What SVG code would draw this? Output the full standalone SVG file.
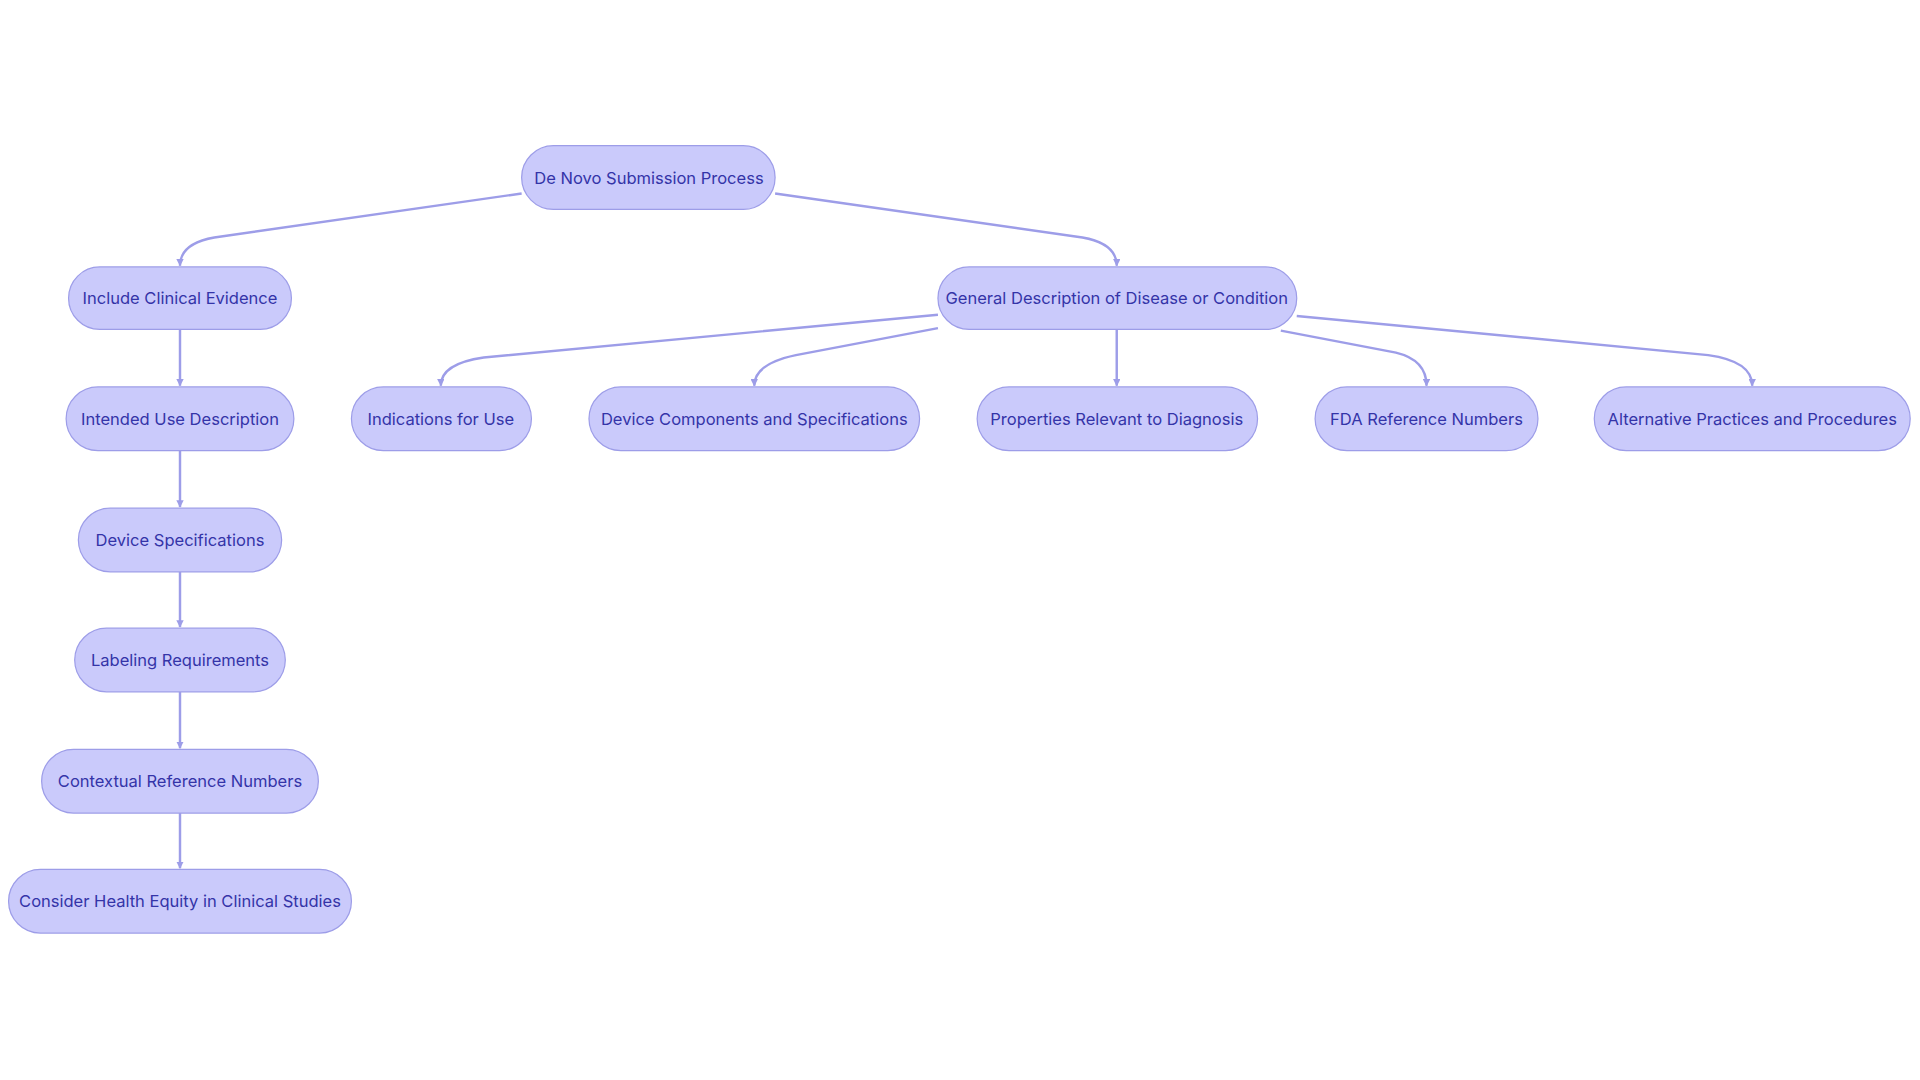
<svg xmlns="http://www.w3.org/2000/svg" width="1920" height="1080" viewBox="0 0 1920 1080">
<style>
.n rect{fill:#cacafb;stroke:#9d9de8;stroke-width:1}
.n text{font-family:Inter,"Noto Sans",sans-serif;font-size:13.5px;fill:#3434a8;text-anchor:middle;dominant-baseline:central}
.e path{fill:none;stroke:#9d9de8;stroke-width:2;marker-end:url(#a)}
</style>
<defs><marker id="a" viewBox="0 0 10 10" refX="9" refY="5" markerWidth="6" markerHeight="6" orient="auto" markerUnits="userSpaceOnUse" ><path d="M0,0L10,5L0,10z" fill="#9d9de8"/></marker>
</defs>
<rect width="1920" height="1080" fill="#fff"/>
<g transform="scale(1.22449)">
<g class="e">
<path d="M426,158 L175,194 Q147,199 147,217"/>
<path d="M633,158 L884,194 Q912,199 912,217"/>
<path d="M147,269 L147,315"/>
<path d="M147,368 L147,414"/>
<path d="M147,467 L147,512"/>
<path d="M147,565 L147,611"/>
<path d="M147,664 L147,709"/>
<path d="M766,257 L395,292 Q360,297 360,315"/>
<path d="M766,268 L650,290 Q616,297 616,315"/>
<path d="M912,269 L912,315"/>
<path d="M1046,270 L1140,288 Q1165,294 1165,315"/>
<path d="M1059,258 L1395,290 Q1431,295 1431,315"/>
</g>
<g id="root" class="n"><rect x="426" y="119" width="207" height="52" rx="26"/><text x="530" y="145">De Novo Submission Process</text></g>
<g id="n1" class="n"><rect x="56" y="218" width="182" height="51" rx="25.5"/><text x="147" y="243">Include Clinical Evidence</text></g>
<g id="n2" class="n"><rect x="54" y="316" width="186" height="52" rx="26"/><text x="147" y="342">Intended Use Description</text></g>
<g id="n3" class="n"><rect x="64" y="415" width="166" height="52" rx="26"/><text x="147" y="441">Device Specifications</text></g>
<g id="n4" class="n"><rect x="61" y="513" width="172" height="52" rx="26"/><text x="147" y="539">Labeling Requirements</text></g>
<g id="n5" class="n"><rect x="34" y="612" width="226" height="52" rx="26"/><text x="147" y="638">Contextual Reference Numbers</text></g>
<g id="n6" class="n"><rect x="7" y="710" width="280" height="52" rx="26"/><text x="147" y="736">Consider Health Equity in Clinical Studies</text></g>
<g id="g" class="n"><rect x="766" y="218" width="293" height="51" rx="25.5"/><text x="912" y="243">General Description of Disease or Condition</text></g>
<g id="g1" class="n"><rect x="287" y="316" width="147" height="52" rx="26"/><text x="360" y="342">Indications for Use</text></g>
<g id="g2" class="n"><rect x="481" y="316" width="270" height="52" rx="26"/><text x="616" y="342">Device Components and Specifications</text></g>
<g id="g3" class="n"><rect x="798" y="316" width="229" height="52" rx="26"/><text x="912" y="342">Properties Relevant to Diagnosis</text></g>
<g id="g4" class="n"><rect x="1074" y="316" width="182" height="52" rx="26"/><text x="1165" y="342">FDA Reference Numbers</text></g>
<g id="g5" class="n"><rect x="1302" y="316" width="258" height="52" rx="26"/><text x="1431" y="342">Alternative Practices and Procedures</text></g>
</g>
</svg>
